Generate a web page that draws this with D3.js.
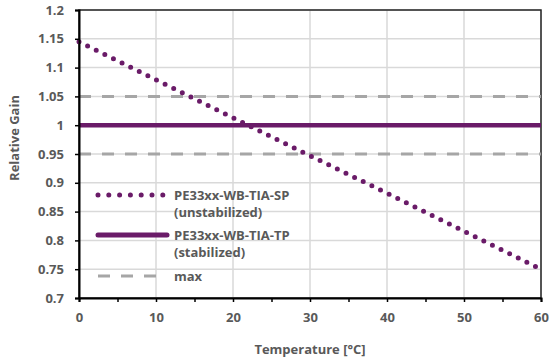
<!DOCTYPE html>
<html>
<head>
<meta charset="utf-8">
<script src="https://cdn.jsdelivr.net/npm/d3@7"></script>
<style>
    body { margin: 0; background: #fff; }
    text { font-family: "Open Sans", Lato, sans-serif; font-weight: bold; fill: #595959; }
</style>
</head>
<body>
<div id="chart"></div>
<script>
// Chart data
const temps = [0, 10, 20, 30, 40, 50, 60];
const unstabilized = [1.145, 1.079, 1.013, 0.947, 0.882, 0.816, 0.75];
const stabilized = [1, 1, 1, 1, 1, 1, 1];
const maxLimits = [1.05, 0.95];
const xTicks = [0, 10, 20, 30, 40, 50, 60];
const yTicks = [0.7, 0.75, 0.8, 0.85, 0.9, 0.95, 1, 1.05, 1.1, 1.15, 1.2];
const legendLabels = [
    ["PE33xx-WB-TIA-SP", "(unstabilized)"],
    ["PE33xx-WB-TIA-TP", "(stabilized)"],
    ["max"]
];

const purple = "#6a1b68";
const gray = "#a6a6a6";
const fontSize = "13px";

const width = 550, height = 360;
const margin = { top: 10, right: 9, bottom: 62, left: 79 };

const svg = d3.select("#chart").append("svg")
    .attr("width", width)
    .attr("height", height);

const x = d3.scaleLinear()
    .domain([0, 60])
    .range([margin.left, width - margin.right]);

const y = d3.scaleLinear()
    .domain([0.7, 1.2])
    .range([height - margin.bottom, margin.top]);

// Gridlines
svg.append("g")
    .selectAll("line")
    .data(yTicks)
    .enter().append("line")
    .attr("x1", x(0)).attr("x2", x(60))
    .attr("y1", d => y(d)).attr("y2", d => y(d))
    .attr("stroke", "#d9d9d9")
    .attr("stroke-width", 1.5);

svg.append("g")
    .selectAll("line")
    .data(xTicks)
    .enter().append("line")
    .attr("x1", d => x(d)).attr("x2", d => x(d))
    .attr("y1", y(0.7)).attr("y2", y(1.2))
    .attr("stroke", "#d9d9d9")
    .attr("stroke-width", 1.5);

// Plot frame (top / right)
svg.append("rect")
    .attr("x", x(0)).attr("y", y(1.2))
    .attr("width", x(60) - x(0))
    .attr("height", y(0.7) - y(1.2))
    .attr("fill", "none")
    .attr("stroke", "#262626")
    .attr("stroke-width", 1.5);

const line = d3.line()
    .x((d, i) => x(temps[i]))
    .y(d => y(d));

// max dashed lines
maxLimits.forEach(v => {
    svg.append("path")
        .datum(temps.map(() => v))
        .attr("d", line)
        .attr("fill", "none")
        .attr("stroke", gray)
        .attr("stroke-width", 3)
        .attr("stroke-dasharray", "12,11");
});

// stabilized
svg.append("path")
    .datum(stabilized)
    .attr("d", line)
    .attr("fill", "none")
    .attr("stroke", purple)
    .attr("stroke-width", 4.5);

// unstabilized dotted
svg.append("path")
    .datum(unstabilized)
    .attr("d", line)
    .attr("fill", "none")
    .attr("stroke", purple)
    .attr("stroke-width", 5)
    .attr("stroke-linecap", "round")
    .attr("stroke-dasharray", "0,9.6");

// Axes
const xAxis = svg.append("g")
    .attr("transform", `translate(0, ${y(0.7)})`)
    .call(d3.axisBottom(x).tickValues(d3.range(0, 61, 5)).tickSize(4).tickFormat(d => d % 10 === 0 ? d : ""));
xAxis.select(".domain").attr("stroke", "#000").attr("stroke-width", 2);
xAxis.selectAll(".tick line").attr("stroke", "#000").attr("stroke-width", 1.5);
xAxis.selectAll(".tick text")
    .attr("y", 15)
    .attr("dy", "0.71em")
    .style("font-size", fontSize)
    .style("font-family", "'Open Sans', sans-serif")
    .attr("fill", "#595959");

const yAxis = svg.append("g")
    .attr("transform", `translate(${x(0)}, 0)`)
    .call(d3.axisLeft(y).tickValues(yTicks).tickSize(4).tickFormat(d3.format("")));
yAxis.select(".domain").attr("stroke", "#000").attr("stroke-width", 2);
yAxis.selectAll(".tick line").attr("stroke", "#000").attr("stroke-width", 1.5);
yAxis.selectAll(".tick text")
    .attr("x", -15)
    .style("font-size", fontSize)
    .style("font-family", "'Open Sans', sans-serif")
    .attr("fill", "#595959");

// Axis titles
svg.append("text")
    .attr("x", (x(0) + x(60)) / 2)
    .attr("y", 354)
    .attr("text-anchor", "middle")
    .style("font-size", fontSize)
    .text("Temperature [°C]");

svg.append("text")
    .attr("transform", `translate(19, 138) rotate(-90)`)
    .attr("text-anchor", "middle")
    .style("font-size", fontSize)
    .text("Relative Gain");

// Legend
const legendY = [195, 235, 276];
const legendStyles = [
    { width: 5, dash: "0,10.8", cap: "round" },
    { width: 5, dash: null, cap: "round" },
    { width: 3, dash: "12,11", cap: "butt" }
];
const legendColors = [purple, purple, gray];

legendLabels.forEach((lines, i) => {
    const ly = legendY[i];
    svg.append("line")
        .attr("x1", 98).attr("x2", 167)
        .attr("y1", ly).attr("y2", ly)
        .attr("stroke", legendColors[i])
        .attr("stroke-width", legendStyles[i].width)
        .attr("stroke-linecap", legendStyles[i].cap)
        .attr("stroke-dasharray", legendStyles[i].dash);
    lines.forEach((t, j) => {
        svg.append("text")
            .attr("x", 174)
            .attr("y", ly + j * 17.5)
            .attr("dy", "0.35em")
            .style("font-size", fontSize)
            .text(t);
    });
});
</script>
</body>
</html>
